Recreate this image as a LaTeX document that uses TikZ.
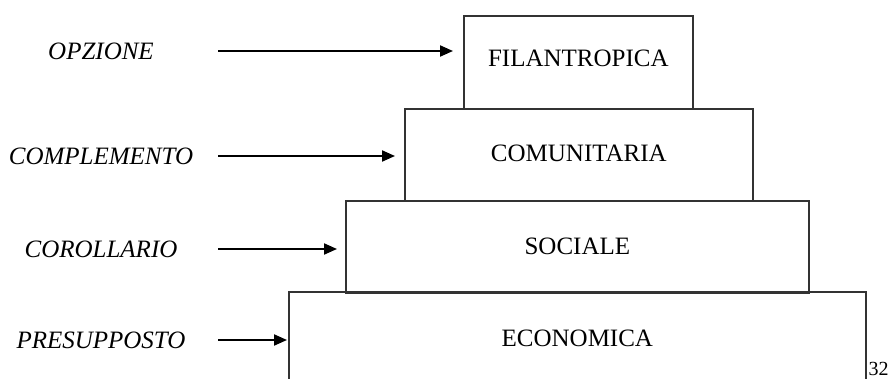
\documentclass[tikz,border=0pt]{standalone}
\usepackage{fontspec}
\setmainfont{Liberation Serif}
\usetikzlibrary{arrows.meta}
\begin{document}
\begin{tikzpicture}[x=1pt,y=-1pt,
  level/.style={draw=black!80, line width=1.7pt, inner sep=0pt, anchor=north west,
    font=\fontsize{25}{29}\selectfont},
  tag/.style={inner sep=0pt, font=\fontsize{25}{29}\selectfont\itshape},
  pointer/.style={draw=black, line width=2pt, -{Triangle[length=13pt,width=11pt]}}]
  \useasboundingbox (0,0) rectangle (891,379);

  % pyramid levels, from the top down
  \node[level, minimum width=229pt, minimum height=93pt, text depth=9pt] (fil) at (463,15) {FILANTROPICA};
  \node[level, minimum width=348pt, minimum height=92pt, text depth=4pt] (com) at (404,108) {COMUNITARIA};
  \node[level, minimum width=463pt, minimum height=92pt, text depth=2pt] (soc) at (345,200) {SOCIALE};
  \node[level, draw=none, minimum width=575pt, minimum height=90pt] (eco) at (289,292) {ECONOMICA};
  \draw[black!80, line width=1.7pt] ([yshift=-10pt]eco.south west) -- (eco.north west)
    -- (eco.north east) -- ([yshift=-10pt]eco.south east);

  % role labels
  \node[tag] (opz) at (101,51) {OPZIONE};
  \node[tag] (cmp) at (101,156) {COMPLEMENTO};
  \node[tag] (cor) at (101,249) {COROLLARIO};
  \node[tag] (pre) at (101,340) {PRESUPPOSTO};

  % arrow tails
  \coordinate (t1) at (218,51);
  \coordinate (t2) at (218,156);
  \coordinate (t3) at (218,249);
  \coordinate (t4) at (218,340);
  \draw[pointer, shorten >=10pt] (t1) -- (t1 -| fil.west);
  \draw[pointer, shorten >=9pt] (t2) -- (t2 -| com.west);
  \draw[pointer, shorten >=8pt] (t3) -- (t3 -| soc.west);
  \draw[pointer, shorten >=2pt] (t4) -- (t4 -| eco.west);

  % page number
  \node[inner sep=0pt, anchor=base west, font=\fontsize{20}{24}\selectfont] (pg) at (868.5,375) {32};
\end{tikzpicture}
\end{document}
